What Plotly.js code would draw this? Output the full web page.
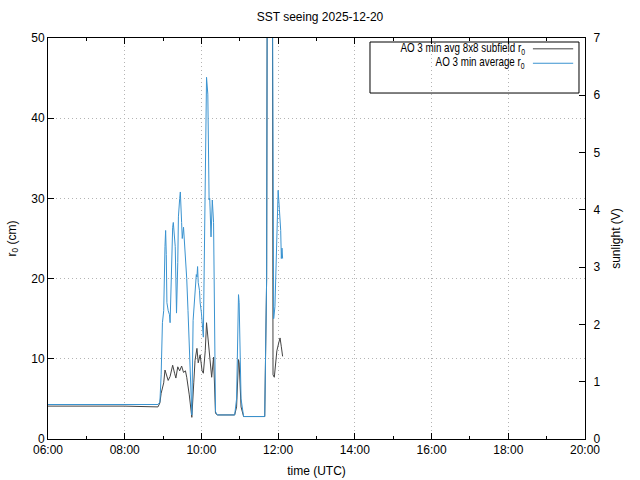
<!DOCTYPE html>
<html>
<head>
<meta charset="utf-8">
<script src="https://cdn.plot.ly/plotly-3.0.1.min.js"></script>
<style>
html,body{margin:0;padding:0;background:#fff}
#chart .annotation-text{transform-box:fill-box;transform-origin:100% 50%;transform:scaleX(0.82)}
</style>
</head>
<body>
<div id="chart" style="width:640px;height:480px"></div>
<script>
const day = "2025-12-20";

const subfieldTimes = ["06:00","07:00","08:00","08:52","08:55","08:57","09:01","09:03","09:05","09:08","09:11","09:15","09:18","09:20","09:23","09:26","09:29","09:32","09:35","09:37","09:41","09:45","09:48","09:50","09:53","09:55","09:58","10:01","10:03","10:06","10:08","10:11","10:13","10:16","10:19","10:22","10:25","10:52","10:55","10:58","10:59","11:02","11:06","11:39","11:42","11:43","11:51","11:52","11:54","11:56","11:58","12:01","12:03","12:05","12:07"];
const subfieldR0 = [4.1,4.1,4.1,4.0,4.5,5.7,7.0,8.6,8.0,7.3,7.8,9.2,8.2,7.6,9.0,8.5,9.1,8.3,8.5,7.7,5.5,2.7,7.0,9.8,11.3,9.5,10.5,8.5,8.2,11.0,14.5,12.0,9.9,7.7,10.2,3.2,3.0,3.0,4.0,9.9,9.5,4.0,2.8,2.8,20,60,60,8.0,7.7,9.0,11.0,12.0,12.6,11.5,10.3];

const averageTimes = ["06:00","07:00","08:00","08:52","08:55","08:57","08:59","09:01","09:03","09:04","09:05","09:06","09:08","09:10","09:11","09:13","09:15","09:16","09:18","09:19","09:20","09:21","09:23","09:24","09:26","09:27","09:29","09:30","09:32","09:34","09:37","09:39","09:41","09:43","09:45","09:47","09:50","09:52","09:53","09:54","09:55","09:57","09:58","10:00","10:03","10:06","10:08","10:10","10:11","10:12","10:13","10:15","10:16","10:17","10:19","10:22","10:25","10:52","10:55","10:58","10:59","11:02","11:06","11:39","11:42","11:43","11:51","11:52","11:53","11:55","11:58","12:00","12:02","12:04","12:05","12:06","12:07"];
const averageR0 = [4.3,4.3,4.3,4.3,4.6,8.0,14.5,16.0,24.0,26.0,23.0,17.0,16.0,15.5,14.5,22.0,26.4,27.0,25.0,24.0,20.0,15.7,22.0,27.7,30.0,30.8,27.0,25.0,26.4,24.0,20.0,16.0,11.5,7.0,3.0,14.8,19.0,20.5,20.2,21.5,19.5,18.5,17.0,15.7,12.7,30.7,45.1,43.0,37.6,29.8,30.0,25.2,27.3,29.8,27.0,3.4,3.0,3.0,5.0,18.0,17.0,5.0,2.8,2.8,20,60,60,16.0,15.0,16.5,25.0,31.0,28.6,26.0,22.5,23.8,22.5];

const sunlightTimes = [];
const sunlightV = [];

const seriesNames = ["AO 3 min avg 8x8 subfield r<sub>0</sub>", "AO 3 min average r<sub>0</sub>"];
const seriesColors = ["#444444", "#3a93d0"];

const toDate = arr => arr.map(t => day + " " + t);

const traces = [
  {x: toDate(subfieldTimes), y: subfieldR0, type: "scatter", mode: "lines",
   line: {color: seriesColors[0], width: 1}, name: seriesNames[0], showlegend: false},
  {x: toDate(averageTimes), y: averageR0, type: "scatter", mode: "lines",
   line: {color: seriesColors[1], width: 1}, name: seriesNames[1], showlegend: false},
  {x: toDate(sunlightTimes), y: sunlightV, type: "scatter", mode: "lines", yaxis: "y2",
   line: {color: "#9400d3", width: 1}, name: "sunlight", showlegend: false}
];

const font = {family: "Liberation Sans, Arial, sans-serif", size: 12, color: "#000"};

// manual gnuplot-style legend (text right, sample line right of text)
const legX0 = 0.5996, legX1 = 0.9888, legY0 = 0.8628, legY1 = 0.990;
const rowY = [0.973, 0.937];
const annotations = seriesNames.map((n, i) => ({
  xref: "paper", yref: "paper", x: 0.892, y: rowY[i], xanchor: "right", yanchor: "middle",
  text: n, showarrow: false, font: font
}));
const shapes = [
  {type: "rect", xref: "paper", yref: "paper", x0: legX0, x1: legX1, y0: legY0, y1: legY1,
   line: {color: "#000", width: 1}, fillcolor: "rgba(0,0,0,0)"}
].concat(seriesColors.map((c, i) => ({
  type: "line", xref: "paper", yref: "paper", x0: 0.903, x1: 0.978, y0: rowY[i], y1: rowY[i],
  line: {color: c, width: 1}
})));

const gridStyle = {showgrid: true, gridcolor: "#b4b4b4", griddash: "1px,3px", gridwidth: 1};

const layout = {
  width: 640, height: 480,
  margin: {l: 48, r: 55, t: 38, b: 41, pad: 0},
  paper_bgcolor: "#fff", plot_bgcolor: "#fff",
  font: font,
  showlegend: false,
  title: {text: "SST seeing 2025-12-20", font: font, x: 0.5, xanchor: "center", y: 0.9646, yanchor: "middle"},
  xaxis: Object.assign({
    type: "date",
    range: [day + " 06:00", day + " 20:00"],
    tick0: day + " 06:00", dtick: 7200000, tickformat: "%H:%M",
    ticks: "inside", ticklen: 6, tickcolor: "#000", tickwidth: 1,
    minor: {dtick: 3600000, ticks: "inside", ticklen: 3, tickcolor: "#000", showgrid: false},
    showline: true, linecolor: "#000", linewidth: 1, mirror: "ticks",
    zeroline: false,
    title: {text: "time (UTC)", font: font, standoff: 10},
    automargin: false
  }, gridStyle),
  yaxis: Object.assign({
    range: [0, 50], dtick: 10,
    ticks: "inside", ticklen: 6, tickcolor: "#000",
    showline: true, linecolor: "#000", linewidth: 1, mirror: false,
    zeroline: false,
    title: {text: "r<sub>0</sub> (cm)", font: font, standoff: 12},
    automargin: false
  }, gridStyle),
  yaxis2: {
    overlaying: "y", side: "right",
    range: [0, 7], dtick: 1,
    ticks: "inside", ticklen: 6, tickcolor: "#000",
    ticklabelstandoff: 5,
    showline: true, linecolor: "#000", linewidth: 1,
    showgrid: false, zeroline: false,
    title: {text: "sunlight (V)", font: font, standoff: 12},
    automargin: false
  },
  annotations: annotations,
  shapes: shapes
};

Plotly.newPlot("chart", traces, layout, {displayModeBar: false, staticPlot: true});
</script>
</body>
</html>
